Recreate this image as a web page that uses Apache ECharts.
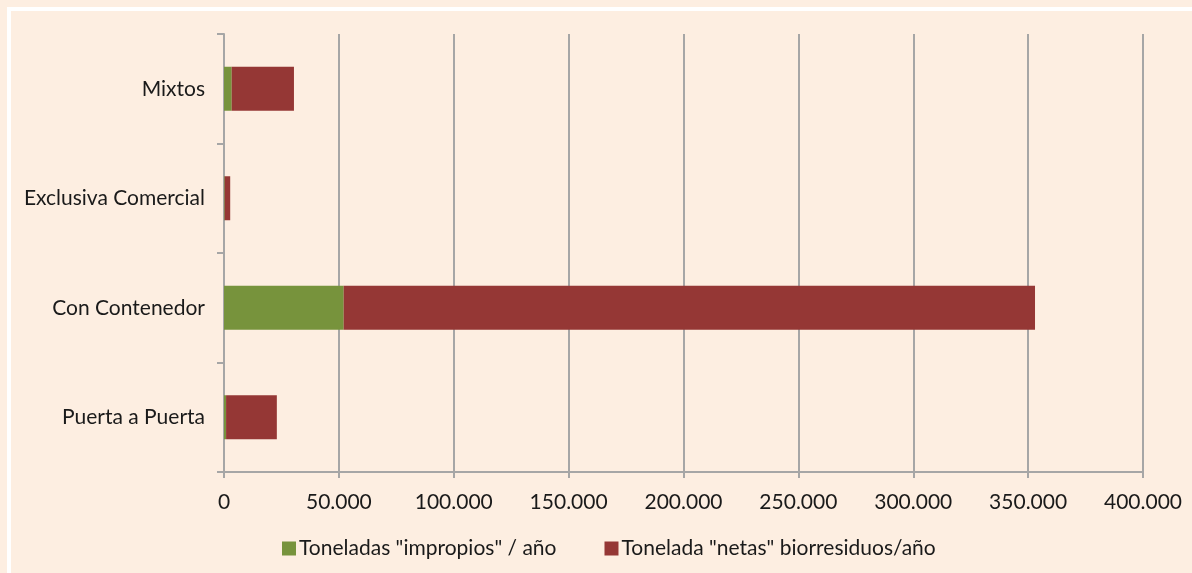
<!DOCTYPE html>
<html>
<head>
<meta charset="utf-8">
<script src="https://cdn.jsdelivr.net/npm/echarts@6/dist/echarts.min.js"></script>
<style>
  html, body { margin: 0; padding: 0; background: #FDEEE1; }
  #chart { width: 1192px; height: 573px; }
</style>
</head>
<body>
<div id="chart"></div>
<script>
// categories bottom -> top (ECharts draws the first category at the bottom)
const categories = ["Puerta a Puerta", "Con Contenedor", "Exclusiva Comercial", "Mixtos"];
const impropios = [900, 52100, 300, 3350];
const netas = [22100, 300900, 2400, 27100];
const seriesNames = ['Toneladas "impropios" / año', 'Tonelada "netas" biorresiduos/año'];

const FONT = "Lato";
const FONT_SIZE = 21;
const GRID_COLOR = "#A6A6A6";

let myChart = echarts.init(document.getElementById("chart"));

// thousands with a dot, like the original
function fmt(v) {
  return String(v).replace(/\B(?=(\d{3})+(?!\d))/g, ".");
}

myChart.setOption({
  backgroundColor: "#FDEEE1",
  textStyle: { fontFamily: FONT, color: "#1a1a1a" },
  graphic: [
    {
      type: "rect",
      shape: { x: 9, y: 9, width: 1200, height: 600 },
      style: { fill: null, stroke: "#ffffff", lineWidth: 4 },
      silent: true,
    },
  ],
  legend: {
    left: 277,
    top: 533,
    itemWidth: 14,
    itemHeight: 14,
    itemGap: 48,
    icon: "rect",
    textStyle: { fontFamily: FONT, fontSize: FONT_SIZE, color: "#1a1a1a", padding: [0, 0, 0, -2] },
    data: seriesNames,
  },
  grid: { left: 224, right: 49, top: 34, bottom: 101, containLabel: false },
  xAxis: {
    type: "value",
    min: 0,
    max: 400000,
    interval: 50000,
    axisLine: { show: true, lineStyle: { color: GRID_COLOR, width: 2 } },
    axisTick: { show: true, length: 6, lineStyle: { color: GRID_COLOR, width: 2 } },
    splitLine: { show: true, lineStyle: { color: GRID_COLOR, width: 2 } },
    axisLabel: { margin: 20, fontSize: FONT_SIZE, color: "#1a1a1a", fontFamily: FONT, formatter: fmt },
  },
  yAxis: {
    type: "category",
    data: categories,
    axisLine: { show: true, lineStyle: { color: GRID_COLOR, width: 2 } },
    axisTick: { show: true, length: 7, lineStyle: { color: GRID_COLOR, width: 2 } },
    axisLabel: { margin: 19, fontSize: FONT_SIZE, color: "#1a1a1a", fontFamily: FONT },
  },
  series: [
    {
      name: seriesNames[0],
      type: "bar",
      stack: "total",
      barWidth: 44,
      itemStyle: { color: "#77933C" },
      data: impropios,
    },
    {
      name: seriesNames[1],
      type: "bar",
      stack: "total",
      barWidth: 44,
      itemStyle: { color: "#953735" },
      data: netas,
    },
  ],
});
</script>
</body>
</html>
